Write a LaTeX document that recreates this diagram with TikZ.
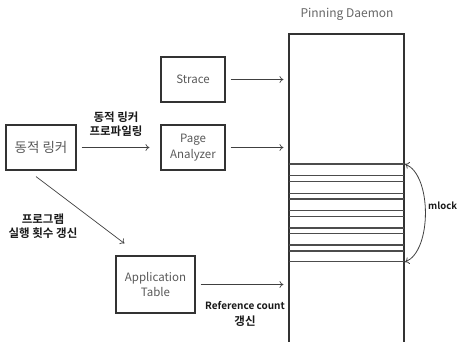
\documentclass[tikz,border=0pt]{standalone}
\usepackage{fontspec}
\setmainfont{Noto Sans CJK KR}[BoldFont={Noto Sans CJK KR Bold}]
\usetikzlibrary{arrows.meta,calc}
\begin{document}
\begin{tikzpicture}[x=1pt,y=-1pt,
  box/.style={draw=black!80,line width=1.1pt,text=black!65,font=\fontsize{11.5}{15.5}\selectfont,align=center,inner sep=0pt},
  arr/.style={draw=black!75,line width=0.7pt,-{To[length=4pt,width=7pt]}},
  lbl/.style={font=\bfseries\fontsize{10}{15.5}\selectfont,align=center,text=black!90},
  krlbl/.style={font=\bfseries\fontsize{11.5}{14}\selectfont,align=center,text=black!90},
  memline/.style={draw=black!70,line width=1.1pt}]
\useasboundingbox (0,0) rectangle (458,341);
\clip (0,0) rectangle (458,341);
\node[box,minimum width=64pt,minimum height=45pt] (strace) at (193,79.5) {Strace};
\node[box,minimum width=64pt,minimum height=45pt] (page) at (193,147.5) {Page\\Analyzer};
\node[box,minimum width=70pt,minimum height=45pt,font=\fontsize{13.5}{16}\selectfont] (linker) at (41,147.5) {동적 링커};
\node[box,minimum width=79pt,minimum height=57pt] (app) at (155.5,284.5) {Application\\Table};
\node[draw=black!80,line width=1.1pt,minimum width=115pt,minimum height=311pt,inner sep=0pt] (daemon) at (346.5,189.5) {};
\node[text=black!60,font=\fontsize{12}{14}\selectfont] (title) at (347,14) {Pinning Daemon};
\foreach \y in {164,175.7,181.7,193.3,199,210.7,216.7,228,233.3,245,251,261.7}
  \draw[memline] (289,\y) -- (404,\y);
\draw[arr,shorten <=5pt,shorten >=5pt] (strace.east) -- (strace.east -| daemon.west);
\draw[arr,shorten <=5pt,shorten >=5pt] (page.east) -- (page.east -| daemon.west);
\draw[arr,shorten <=5pt,shorten >=5pt] (app.east) -- (app.east -| daemon.west);
\draw[arr,shorten <=5pt,shorten >=11pt] (linker.east) -- (page.west);
\draw[arr] ($(linker.south)+(-5,6)$) -- ($(app.north west)+(9,-12)$);
\coordinate (mtop) at (405,164);
\coordinate (mbot) at (405,262);
\draw[draw=black!75,line width=0.8pt,{To[length=4pt,width=7pt]}-{To[length=4pt,width=7pt]}] (mtop) .. controls (432,175) and (432,251) .. (mbot);
\node[lbl,anchor=west,font=\bfseries\fontsize{9.5}{12}\selectfont,inner sep=0pt] (mlock) at (428,206) {mlock};
\node[krlbl] (l1) at (116,124) {동적 링커\\프로파일링};
\node[krlbl] (l2) at (43,226) {프로그램\\실행 횟수 갱신};
\node[lbl] (l3) at (245,314) {Reference count\\{\fontsize{11.5}{14}\selectfont 갱신}};
\end{tikzpicture}
\end{document}
